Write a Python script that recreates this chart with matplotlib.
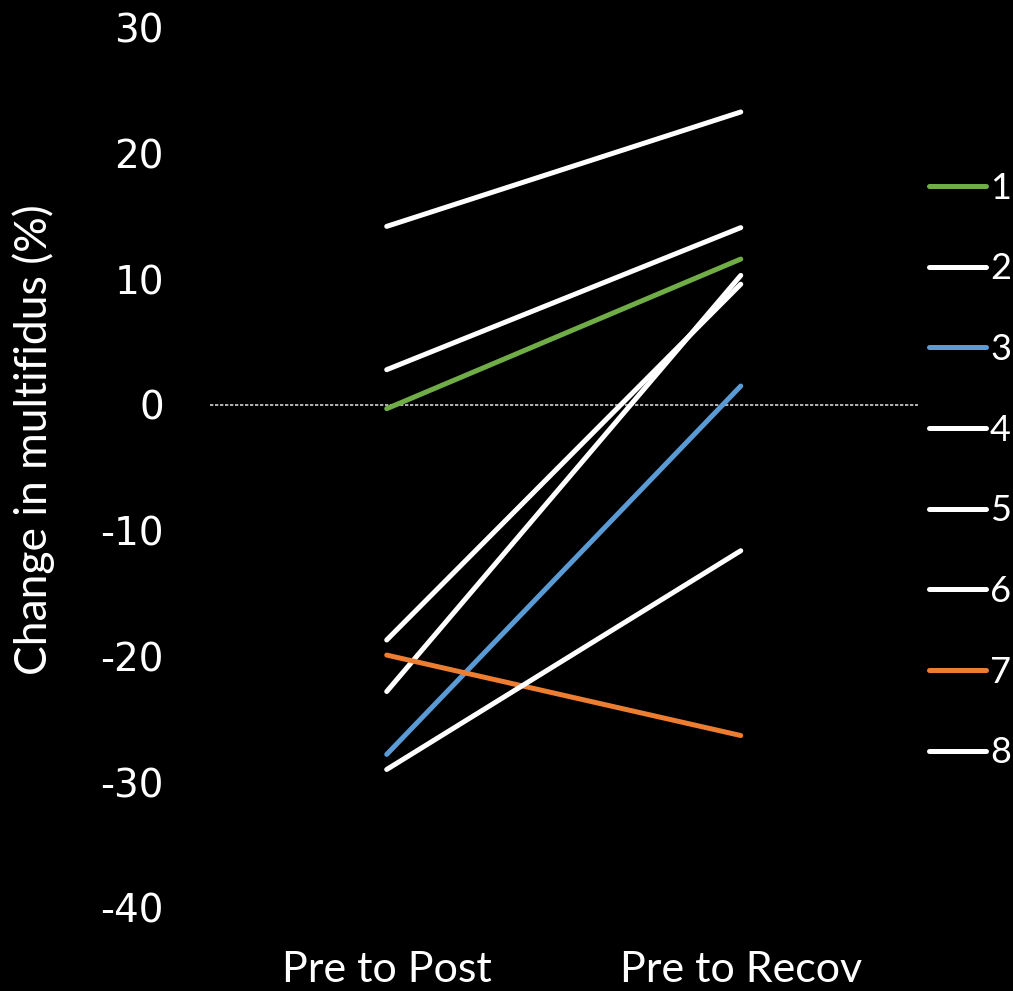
import matplotlib
matplotlib.use('Agg')
import matplotlib.pyplot as plt

plt.rcParams['axes.unicode_minus'] = False
plt.rcParams['font.family'] = 'DejaVu Sans'

# data
categories = ['Pre to Post', 'Pre to Recov']
subjects = ['1', '2', '3', '4', '5', '6', '7', '8']
pre_post = [-0.3, 14.2, -27.8, 2.8, -18.7, -22.8, -19.9, -29.0]
pre_recov = [11.6, 23.3, 1.5, 14.1, 9.6, 10.3, -26.3, -11.6]
colors = ['#70AD47', 'white', '#5B9BD5', 'white', 'white', 'white', '#ED7D31', 'white']
yticks = [-40, -30, -20, -10, 0, 10, 20, 30]

fig = plt.figure(figsize=(10.13, 9.91), dpi=100, facecolor='black')
ax = fig.add_axes([0.207, 0.084, 0.699, 0.888], facecolor='black')

x = range(len(categories))
for i in range(len(subjects)):
    ax.plot(x, [pre_post[i], pre_recov[i]], color=colors[i], lw=3.6,
            solid_capstyle='round', label=subjects[i])

ax.axhline(0, color='#d0d0d0', lw=1.2, ls=(0, (2, 1)), zorder=0)

ax.set_xlim(-0.5, 1.5)
ax.set_ylim(-40, 30)
ax.set_yticks(yticks)
ax.set_yticklabels([str(v) for v in yticks], color='white', fontsize=28,
                   family='DejaVu Sans')
ax.set_xticks(list(x))
ax.set_xticklabels(categories, color='white', fontsize=31, family='Lato')
ax.tick_params(axis='y', length=0, pad=33)
ax.tick_params(axis='x', length=0, pad=31)
for s in ax.spines.values():
    s.set_visible(False)

ax.set_ylabel('Change in multifidus (%)', color='white', fontsize=32,
              family='Lato')
ax.yaxis.set_label_coords(-0.219, 0.532)

leg = ax.legend(loc='upper left', bbox_to_anchor=(0.995, 0.853), frameon=False,
                prop={'family': 'Lato', 'size': 26}, handlelength=1.6,
                handletextpad=0.1, labelspacing=1.32, borderaxespad=0)
for t in leg.get_texts():
    t.set_color('white')

fig.savefig('out.png', dpi=100, facecolor='black')
